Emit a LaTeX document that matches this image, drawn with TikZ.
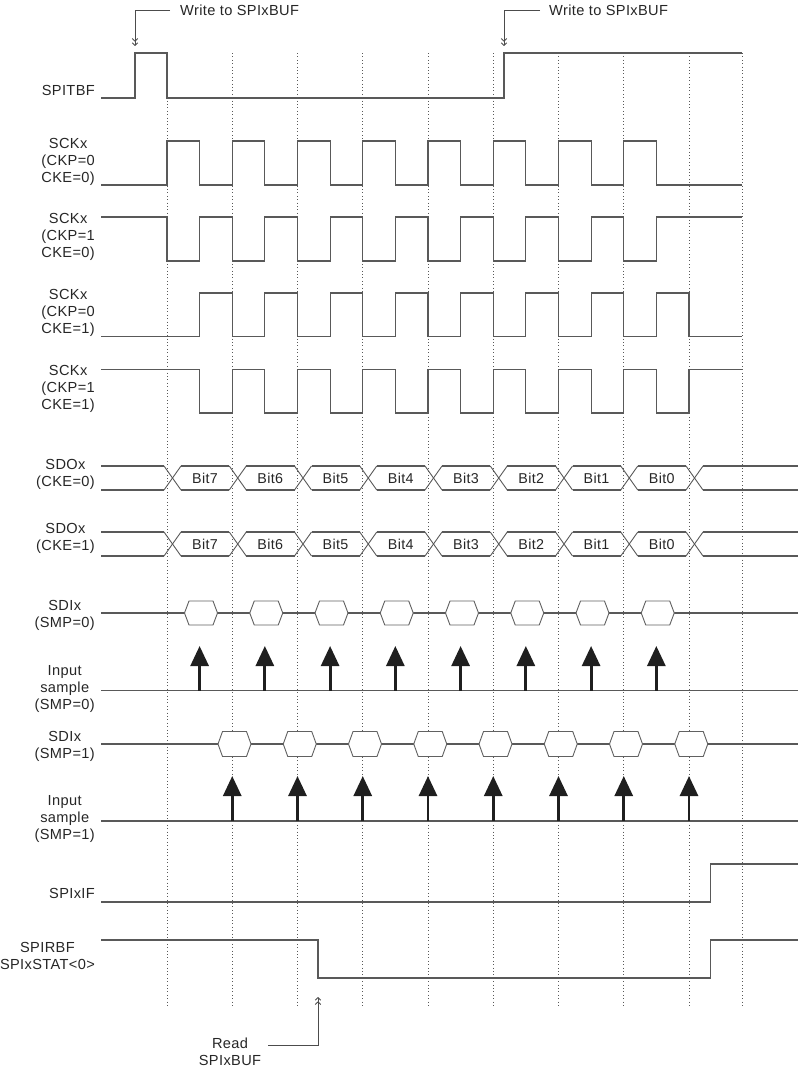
\documentclass[tikz,border=0pt]{standalone}
\usepackage{fontspec}
\setmainfont[LetterSpace=2.5]{Liberation Sans}
\usetikzlibrary{arrows.meta}
\begin{document}
\begin{tikzpicture}[x=1pt,y=-1pt,
  sig/.style={draw=black!65, line width=1.1pt},
  gridline/.style={draw=black!65, line width=0.8pt, dash pattern=on 0.8pt off 2.6pt},
  lbl/.style={anchor=east, align=center, inner sep=0pt, font=\fontsize{14.6}{17}\selectfont, text=black!85},
  bit/.style={inner sep=0pt, font=\fontsize{14.3}{17}\selectfont, text=black!85},
  call/.style={draw=black!70, line width=0.9pt},
  tipdown/.style={-{Straight Barb[length=2.6pt,width=5.5pt,sep=0.6pt]Straight Barb[length=2.6pt,width=5.5pt]}},
  hex/.style={draw=black!62, line width=0.9pt, fill=white},
  samp/.style={draw=black!88, line width=2.8pt, -{Triangle[width=18pt,length=20pt]}, black!88},
]
\useasboundingbox (0,0) rectangle (800,1068);
\def\T{65.25}
\def\H{32.6}
% dotted guide lines
\foreach \i in {0,...,8}{
  \draw[gridline] (167+\i*\T,53) -- (167+\i*\T,1007);
}
\draw[gridline] (742,53) -- (742,1007);

% labels
\node[lbl] (lSPITBF) at (95,90) {SPITBF};
\node[lbl] (lSCK1) at (95,162) {SCKx\\(CKP=0\\CKE=0)};
\node[lbl] (lSCK2) at (95,237) {SCKx\\(CKP=1\\CKE=0)};
\node[lbl] (lSCK3) at (95,312.5) {SCKx\\(CKP=0\\CKE=1)};
\node[lbl] (lSCK4) at (95,389) {SCKx\\(CKP=1\\CKE=1)};
\node[lbl] (lSDO0) at (95,474) {SDOx\\(CKE=0)};
\node[lbl] (lSDO1) at (95,538.5) {SDOx\\(CKE=1)};
\node[lbl] (lSDI0) at (95,615) {SDIx\\(SMP=0)};
\node[lbl] (lIS0) at (95,689) {Input\\sample\\(SMP=0)};
\node[lbl] (lSDI1) at (95,746) {SDIx\\(SMP=1)};
\node[lbl] (lIS1) at (95,819) {Input\\sample\\(SMP=1)};
\node[lbl] (lIF) at (95,893) {SPIxIF};
\node[lbl] (lRBF) at (95,956) {SPIRBF\\SPIxSTAT<0>};

% SPITBF
\draw[sig] (101,98) -- (135,98) -- (135,53) -- (167,53) -- (167,98) -- (504,98) -- (504,53) -- (742,53);

% Write to SPIxBUF callouts
\node[anchor=west, inner xsep=10pt, inner ysep=0pt, font=\fontsize{14.6}{17}\selectfont, text=black!85] (wt1) at (170,10) {Write to SPIxBUF};
\coordinate (w1) at (135,46);
\draw[call,tipdown] (wt1.west) -| (w1);
\node[anchor=west, inner xsep=9pt, inner ysep=0pt, font=\fontsize{14.6}{17}\selectfont, text=black!85] (wt2) at (540,10) {Write to SPIxBUF};
\coordinate (w2) at (504,46);
\draw[call,tipdown] (wt2.west) -| (w2);

% SCK rows
\draw[sig] (101,185) \foreach \i in {0,...,7}{ -- (167+\i*\T,185) -- (167+\i*\T,141) -- (167+\H+\i*\T,141) -- (167+\H+\i*\T,185)} -- (742,185);
\draw[sig] (101,217) \foreach \i in {0,...,7}{ -- (167+\i*\T,217) -- (167+\i*\T,261) -- (167+\H+\i*\T,261) -- (167+\H+\i*\T,217)} -- (742,217);
\draw[sig] (101,336.5) \foreach \i in {0,...,7}{ -- (167+\H+\i*\T,336.5) -- (167+\H+\i*\T,293) -- (167+\T+\i*\T,293) -- (167+\T+\i*\T,336.5)} -- (742,336.5);
\draw[sig] (101,369.5) \foreach \i in {0,...,7}{ -- (167+\H+\i*\T,369.5) -- (167+\H+\i*\T,413) -- (167+\T+\i*\T,413) -- (167+\T+\i*\T,369.5)} -- (742,369.5);

% SDO rows
\foreach \yt/\yb in {466/490, 532/556}{
  \draw[sig] (101,\yt) -- (164,\yt);
  \draw[sig] (101,\yb) -- (164,\yb);
  \foreach \i in {0,...,8}{
    \draw[sig,line width=0.9pt] (164+\i*\T,\yt) -- (181+\i*\T,\yb);
    \draw[sig,line width=0.9pt] (164+\i*\T,\yb) -- (181+\i*\T,\yt);
  }
  \foreach \i in {0,...,7}{
    \draw[sig] (181+\i*\T,\yt) -- (164+\T+\i*\T,\yt);
    \draw[sig] (181+\i*\T,\yb) -- (164+\T+\i*\T,\yb);
  }
  \draw[sig] (181+8*\T,\yt) -- (798,\yt);
  \draw[sig] (181+8*\T,\yb) -- (798,\yb);
}
\foreach \b [count=\i from 0] in {7,6,5,4,3,2,1,0}{
  \node[bit] (b0\b) at (205+\i*\T,478.5) {Bit\b};
  \node[bit] (b1\b) at (205+\i*\T,544.5) {Bit\b};
}

% SDI (SMP=0)
\draw[sig] (101,613) -- (798,613);
\foreach \i in {0,...,7}{
  \pgfmathsetmacro\c{201+\i*\T}
  \draw[hex] (\c-16.5,613) -- (\c-12,601) -- (\c+12,601) -- (\c+16.5,613) -- (\c+12,625) -- (\c-12,625) -- cycle;
}
% Input sample (SMP=0)
\draw[sig] (101,690.5) -- (798,690.5);
\foreach \i in {0,...,7}{
  \coordinate (s0b\i) at (167+\H+\i*\T,690.5);
  \coordinate (s0t\i) at (167+\H+\i*\T,646);
  \draw[samp] (s0b\i) -- (s0t\i);
}

% SDI (SMP=1)
\draw[sig] (101,744) -- (798,744);
\foreach \i in {0,...,7}{
  \pgfmathsetmacro\c{234.5+\i*\T}
  \draw[hex] (\c-16.5,744) -- (\c-12,731.5) -- (\c+12,731.5) -- (\c+16.5,744) -- (\c+12,756.5) -- (\c-12,756.5) -- cycle;
}
% Input sample (SMP=1)
\draw[sig] (101,821) -- (798,821);
\foreach \i in {1,...,8}{
  \coordinate (s1b\i) at (167+\i*\T,821);
  \coordinate (s1t\i) at (167+\i*\T,776);
  \draw[samp] (s1b\i) -- (s1t\i);
}

% SPIxIF
\draw[sig] (101,902) -- (710.7,902) -- (710.7,864) -- (798,864);
% SPIRBF
\draw[sig] (101,940) -- (318,940) -- (318,978) -- (710.7,978) -- (710.7,940) -- (798,940);

% Read SPIxBUF callout
\node[align=center, inner sep=0pt, font=\fontsize{14.6}{17}\selectfont, text=black!85] (rd) at (230,1051.5) {Read\\SPIxBUF};
\coordinate (rdl) at (268,1045);
\coordinate (r1) at (318,997);
\draw[call,tipdown] (rdl) -| (r1);
\end{tikzpicture}
\end{document}
